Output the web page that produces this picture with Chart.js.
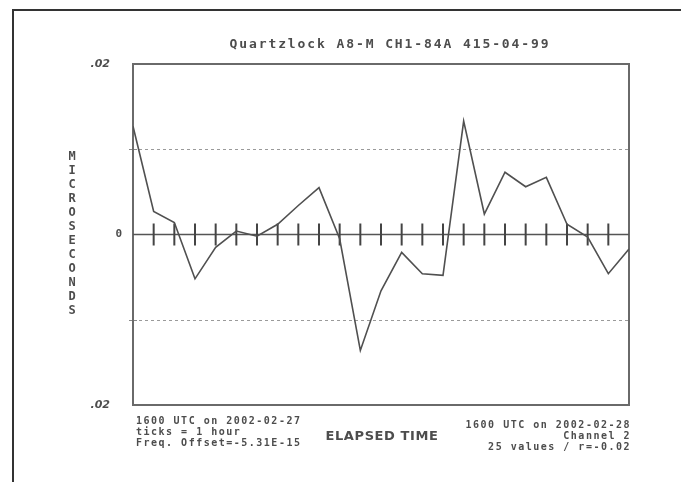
<!DOCTYPE html>
<html>
<head>
<meta charset="utf-8">
<script src="https://cdn.jsdelivr.net/npm/chart.js@4"></script>
<style>
html,body{margin:0;padding:0;background:#fff;}
#wrap{position:relative;width:681px;height:482px;}
canvas{display:block;}
</style>
</head>
<body>
<div id="wrap"><canvas id="c" width="681" height="482"></canvas></div>
<script>
// ---- data ----
const hours = [0,1,2,3,4,5,6,7,8,9,10,11,12,13,14,15,16,17,18,19,20,21,22,23,24];
const microseconds = [0.0127,0.0027,0.0014,-0.0052,-0.0015,0.0004,-0.0002,0.0012,0.0034,0.0055,-0.0005,-0.0136,-0.0066,-0.0021,-0.0046,-0.0048,0.0133,0.0024,0.0073,0.0056,0.0067,0.0012,-0.0003,-0.0046,-0.0017];
const yTickValues = [0.02, 0, -0.02];
const yTickLabels = ['.02', '0', '.02'];
const gridValues = [0.01, -0.01];
const titleText = 'Quartzlock A8-M CH1-84A 415-04-99';
const yAxisTitle = 'MICROSECONDS';
const xAxisTitle = 'ELAPSED TIME';
const footLeft = ['1600 UTC on 2002-02-27', 'ticks = 1 hour', 'Freq. Offset=-5.31E-15'];
const footRight = ['1600 UTC on 2002-02-28', 'Channel 2', '25 values / r=-0.02'];

const ink = '#4d4d4d';

const decor = {
  id: 'decor',
  beforeDatasetsDraw(chart) {
    const {ctx, chartArea: a, scales: {x, y}} = chart;
    ctx.save();
    // page frame (L shape)
    ctx.strokeStyle = '#333';
    ctx.lineWidth = 2;
    ctx.beginPath();
    ctx.moveTo(13, 482); ctx.lineTo(13, 10); ctx.lineTo(681, 10);
    ctx.stroke();
    // dotted gridlines
    ctx.strokeStyle = '#9a9a9a';
    ctx.lineWidth = 1;
    ctx.setLineDash([3, 3]);
    gridValues.forEach(v => {
      const py = Math.round(y.getPixelForValue(v)) + 0.5;
      ctx.beginPath(); ctx.moveTo(a.left, py); ctx.lineTo(a.right, py); ctx.stroke();
    });
    ctx.setLineDash([]);
    // small marks on left axis at gridlines
    ctx.strokeStyle = '#888';
    gridValues.forEach(v => {
      const py = Math.round(y.getPixelForValue(v)) + 0.5;
      ctx.beginPath(); ctx.moveTo(a.left - 4, py); ctx.lineTo(a.left + 4, py); ctx.stroke();
    });
    // plot border
    ctx.strokeStyle = '#6a6a6a';
    ctx.lineWidth = 2;
    ctx.strokeRect(a.left, a.top, a.right - a.left, a.bottom - a.top);
    // zero line
    const y0 = y.getPixelForValue(0);
    ctx.strokeStyle = '#555';
    ctx.lineWidth = 1.5;
    ctx.beginPath(); ctx.moveTo(a.left, y0); ctx.lineTo(a.right, y0); ctx.stroke();
    // hour ticks
    ctx.lineWidth = 2;
    ctx.strokeStyle = '#444';
    for (let i = 1; i < hours.length - 1; i++) {
      const px = x.getPixelForValue(hours[i]);
      ctx.beginPath(); ctx.moveTo(px, y0 - 11); ctx.lineTo(px, y0 + 11); ctx.stroke();
    }
    // y tick labels
    ctx.fillStyle = ink;
    ctx.textBaseline = 'middle';
    yTickValues.forEach((v, i) => {
      const py = y.getPixelForValue(v);
      if (v === 0) {
        ctx.font = 'bold 11px "DejaVu Sans Mono"';
        ctx.textAlign = 'right';
        ctx.fillText(yTickLabels[i], a.left - 11, py);
      } else {
        ctx.font = 'italic bold 11px "DejaVu Sans"';
        ctx.textAlign = 'right';
        ctx.fillText(yTickLabels[i], a.left - 23, py);
      }
    });
    // title
    ctx.font = 'bold 13px "DejaVu Sans Mono"';
    ctx.letterSpacing = '1.9px';
    ctx.textAlign = 'center';
    ctx.fillText(titleText, 390, 45);
    // y axis title, stacked letters
    ctx.font = 'bold 12px "DejaVu Sans Mono"';
    ctx.letterSpacing = '0px';
    for (let i = 0; i < yAxisTitle.length; i++) {
      ctx.fillText(yAxisTitle[i], 72, 157 + i * 14);
    }
    // x axis title
    ctx.font = 'bold 13px "DejaVu Sans"';
    ctx.letterSpacing = '0.6px';
    ctx.fillText(xAxisTitle, 382, 437);
    // footers
    ctx.font = 'bold 10px "DejaVu Sans Mono"';
    ctx.letterSpacing = '1.5px';
    ctx.textAlign = 'left';
    footLeft.forEach((t, i) => ctx.fillText(t, 136, 421 + i * 11));
    ctx.textAlign = 'right';
    footRight.forEach((t, i) => ctx.fillText(t, 631, 425 + i * 11));
    ctx.restore();
  }
};

new Chart(document.getElementById('c'), {
  type: 'line',
  data: {
    labels: hours,
    datasets: [{
      data: hours.map((h, i) => ({x: h, y: microseconds[i]})),
      borderColor: '#505050',
      borderWidth: 1.6,
      pointRadius: 0,
      tension: 0,
      fill: false
    }]
  },
  options: {
    responsive: false,
    animation: false,
    devicePixelRatio: 1,
    layout: {padding: {left: 133, right: 52, top: 64, bottom: 77}},
    plugins: {legend: {display: false}, tooltip: {enabled: false}},
    scales: {
      x: {type: 'linear', min: 0, max: 24, display: false},
      y: {min: -0.02, max: 0.02, display: false}
    }
  },
  plugins: [decor]
});
</script>
</body>
</html>
